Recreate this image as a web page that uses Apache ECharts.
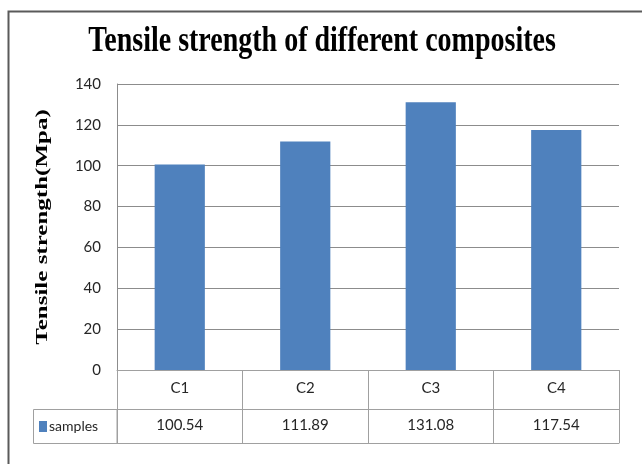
<!DOCTYPE html>
<html>
<head>
<meta charset="utf-8">
<script src="https://cdn.jsdelivr.net/npm/echarts@6/dist/echarts.min.js"></script>
<style>
  html, body { margin: 0; padding: 0; background: #fff; }
  #chart { width: 642px; height: 464px; }
</style>
</head>
<body>
<div id="chart"></div>
<script>
// Composite samples and their measured tensile strength (MPa)
const categories = ['C1', 'C2', 'C3', 'C4'];
const samples = [100.54, 111.89, 131.08, 117.54];
const seriesName = 'samples';
const titleText = 'Tensile strength of different composites';
const yAxisTitle = 'Tensile strength(Mpa)';

const barColor = '#4F81BD';
const gridColor = '#8c8c8c';
const tableColor = '#a0a0a0';
const labelFont = 'Lato, "Open Sans", sans-serif';
const serifFont = '"Liberation Serif", "DejaVu Serif", serif';

const chart = echarts.init(document.getElementById('chart'));

chart.setOption({
  backgroundColor: '#ffffff',
  animation: false,
  grid: { left: 117, right: 23, top: 84, bottom: 94 },
  xAxis: [
    {
      // category row of the data table
      type: 'category',
      data: categories,
      position: 'bottom',
      axisLine: { show: true, lineStyle: { color: tableColor, width: 1 } },
      axisTick: { show: true, alignWithLabel: false, length: 73, lineStyle: { color: tableColor, width: 1 } },
      axisLabel: { margin: 11, fontSize: 15, color: '#262626', fontFamily: labelFont }
    },
    {
      // value row of the data table
      type: 'category',
      data: categories,
      position: 'bottom',
      offset: 39,
      axisLine: { show: true, lineStyle: { color: tableColor, width: 1 } },
      axisTick: { show: false },
      axisLabel: {
        margin: 9,
        fontSize: 15,
        color: '#262626',
        fontFamily: labelFont,
        formatter: (v, i) => samples[i].toFixed(2)
      }
    },
    {
      // bottom edge of the data table
      type: 'category',
      data: categories,
      position: 'bottom',
      offset: 73,
      axisLine: { show: true, lineStyle: { color: tableColor, width: 1 } },
      axisTick: { show: false },
      axisLabel: { show: false }
    }
  ],
  yAxis: {
    type: 'value',
    min: 0,
    max: 140,
    interval: 20,
    axisLine: { show: true, lineStyle: { color: gridColor, width: 1 } },
    axisTick: { show: false },
    axisLabel: { margin: 16, fontSize: 15, color: '#262626', fontFamily: labelFont },
    splitLine: { show: true, lineStyle: { color: gridColor, width: 1 } }
  },
  series: [
    {
      name: seriesName,
      type: 'bar',
      data: samples,
      barWidth: '40%',
      itemStyle: { color: barColor }
    }
  ]
});

// Frame, tall condensed titles and the legend-key cell of the data table
const origin = chart.convertToPixel({ xAxisIndex: 0 }, categories[0]);
const colW = chart.convertToPixel({ xAxisIndex: 0 }, categories[1]) - origin;
const tableLeft = origin - colW / 2;
const zeroY = chart.convertToPixel({ yAxisIndex: 0 }, 0);
const topY = chart.convertToPixel({ yAxisIndex: 0 }, 140);
const rowTop = zeroY + 39;
const rowH = 34;

chart.setOption({
  graphic: [
    {
      type: 'rect',
      shape: { x: 8.5, y: 11.5, width: 700, height: 500 },
      style: { fill: 'none', stroke: '#5a5a5a', lineWidth: 2 },
      silent: true
    },
    {
      type: 'text',
      x: 322,
      y: 42,
      scaleY: 1.27,
      style: {
        text: titleText,
        fontFamily: serifFont,
        fontWeight: 'bold',
        fontSize: 28,
        fill: '#000',
        textAlign: 'center',
        textVerticalAlign: 'middle'
      },
      silent: true
    },
    {
      type: 'text',
      x: 43,
      y: (zeroY + topY) / 2,
      rotation: Math.PI / 2,
      scaleY: 0.67,
      style: {
        text: yAxisTitle,
        fontFamily: serifFont,
        fontWeight: 'bold',
        fontSize: 25,
        fill: '#000',
        textAlign: 'center',
        textVerticalAlign: 'middle'
      },
      silent: true
    },
    {
      type: 'rect',
      shape: { x: 33.5, y: rowTop + 0.5, width: tableLeft - 33.5, height: rowH },
      style: { fill: 'none', stroke: tableColor, lineWidth: 1 },
      silent: true
    },
    {
      type: 'rect',
      shape: { x: 39, y: rowTop + 12, width: 8, height: 11 },
      style: { fill: barColor },
      silent: true
    },
    {
      type: 'text',
      x: 49,
      y: rowTop + 17,
      style: {
        text: seriesName,
        fontSize: 14,
        fontFamily: labelFont,
        fill: '#262626',
        textVerticalAlign: 'middle'
      },
      silent: true
    }
  ]
});
</script>
</body>
</html>
